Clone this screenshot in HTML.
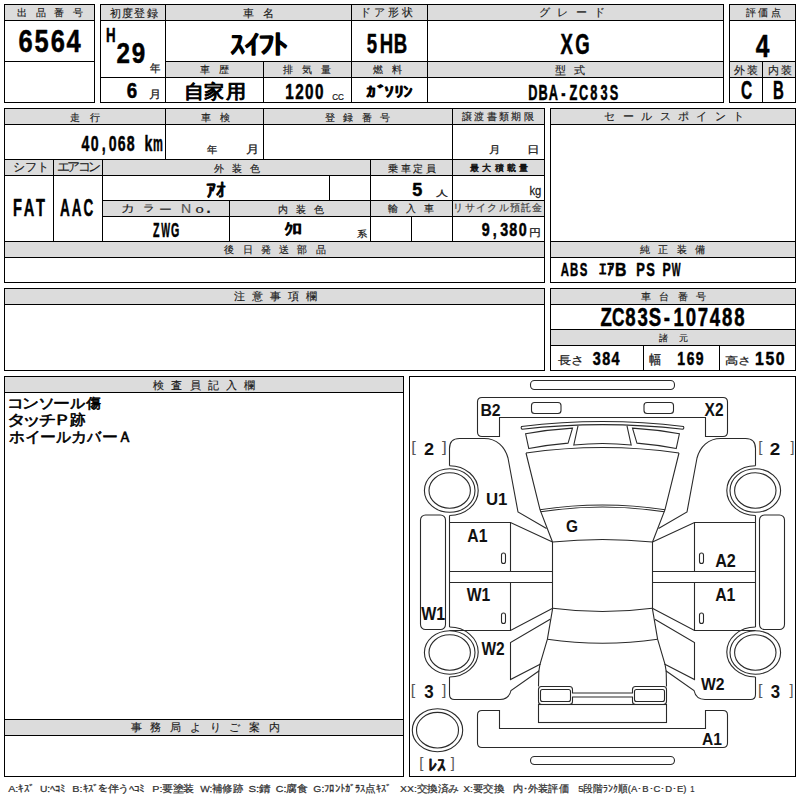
<!DOCTYPE html>
<html lang="ja"><head><meta charset="utf-8"><title>auction sheet</title>
<style>
html,body{margin:0;padding:0;background:#fff;}
body{width:800px;height:800px;overflow:hidden;position:relative;font-family:"Liberation Sans", sans-serif;}
svg{position:absolute;left:0;top:0;}
svg text{font-family:"Liberation Sans", sans-serif;white-space:pre;}
</style></head><body>
<svg width="800" height="800" viewBox="0 0 800 800">
<g fill="#000" shape-rendering="crispEdges">
<rect x="5" y="5" width="89" height="15" fill="#dcdcdc"/>
<rect x="101" y="5" width="622" height="15" fill="#dcdcdc"/>
<rect x="166" y="62" width="557" height="15" fill="#dcdcdc"/>
<rect x="730" y="5" width="65" height="15" fill="#dcdcdc"/>
<rect x="730" y="62" width="65" height="15" fill="#dcdcdc"/>
<rect x="5" y="109" width="539" height="15" fill="#dcdcdc"/>
<rect x="5" y="160" width="539" height="15" fill="#dcdcdc"/>
<rect x="103" y="201" width="441" height="15" fill="#dcdcdc"/>
<rect x="5" y="242" width="539" height="15" fill="#dcdcdc"/>
<rect x="551" y="109" width="244" height="15" fill="#dcdcdc"/>
<rect x="551" y="242" width="244" height="15" fill="#dcdcdc"/>
<rect x="5" y="289" width="539" height="15" fill="#dcdcdc"/>
<rect x="551" y="289" width="244" height="15" fill="#dcdcdc"/>
<rect x="551" y="330" width="244" height="15" fill="#dcdcdc"/>
<rect x="5" y="377" width="398" height="15" fill="#dcdcdc"/>
<rect x="5" y="720" width="398" height="15" fill="#dcdcdc"/>
<rect x="4" y="4" width="91" height="1"/>
<rect x="4" y="102" width="91" height="1"/>
<rect x="4" y="20" width="91" height="1"/>
<rect x="4" y="61" width="91" height="1"/>
<rect x="100" y="4" width="624" height="1"/>
<rect x="100" y="102" width="624" height="1"/>
<rect x="100" y="20" width="624" height="1"/>
<rect x="165" y="61" width="559" height="1"/>
<rect x="100" y="77" width="624" height="1"/>
<rect x="729" y="4" width="67" height="1"/>
<rect x="729" y="102" width="67" height="1"/>
<rect x="729" y="20" width="67" height="1"/>
<rect x="729" y="61" width="67" height="1"/>
<rect x="729" y="77" width="67" height="1"/>
<rect x="4" y="108" width="541" height="1"/>
<rect x="4" y="282" width="541" height="1"/>
<rect x="4" y="124" width="541" height="1"/>
<rect x="4" y="159" width="541" height="1"/>
<rect x="4" y="175" width="541" height="1"/>
<rect x="102" y="200" width="443" height="1"/>
<rect x="102" y="216" width="443" height="1"/>
<rect x="4" y="241" width="541" height="1"/>
<rect x="4" y="257" width="541" height="1"/>
<rect x="550" y="108" width="246" height="1"/>
<rect x="550" y="282" width="246" height="1"/>
<rect x="550" y="124" width="246" height="1"/>
<rect x="550" y="241" width="246" height="1"/>
<rect x="550" y="257" width="246" height="1"/>
<rect x="4" y="288" width="541" height="1"/>
<rect x="4" y="370" width="541" height="1"/>
<rect x="4" y="304" width="541" height="1"/>
<rect x="550" y="288" width="246" height="1"/>
<rect x="550" y="370" width="246" height="1"/>
<rect x="550" y="304" width="246" height="1"/>
<rect x="550" y="329" width="246" height="1"/>
<rect x="550" y="345" width="246" height="1"/>
<rect x="4" y="376" width="400" height="1"/>
<rect x="4" y="776" width="400" height="1"/>
<rect x="4" y="392" width="400" height="1"/>
<rect x="4" y="719" width="400" height="1"/>
<rect x="4" y="735" width="400" height="1"/>
<rect x="409" y="376" width="387" height="1"/>
<rect x="409" y="776" width="387" height="1"/>
<rect x="4" y="4" width="1" height="99"/>
<rect x="94" y="4" width="1" height="99"/>
<rect x="100" y="4" width="1" height="99"/>
<rect x="723" y="4" width="1" height="99"/>
<rect x="165" y="4" width="1" height="99"/>
<rect x="351" y="4" width="1" height="99"/>
<rect x="427" y="4" width="1" height="99"/>
<rect x="263" y="61" width="1" height="42"/>
<rect x="729" y="4" width="1" height="99"/>
<rect x="795" y="4" width="1" height="99"/>
<rect x="762" y="61" width="1" height="42"/>
<rect x="4" y="108" width="1" height="175"/>
<rect x="544" y="108" width="1" height="175"/>
<rect x="165" y="108" width="1" height="52"/>
<rect x="263" y="108" width="1" height="52"/>
<rect x="452" y="108" width="1" height="134"/>
<rect x="53" y="159" width="1" height="83"/>
<rect x="102" y="159" width="1" height="83"/>
<rect x="370" y="159" width="1" height="83"/>
<rect x="329" y="175" width="1" height="26"/>
<rect x="229" y="200" width="1" height="42"/>
<rect x="411" y="216" width="1" height="26"/>
<rect x="550" y="108" width="1" height="175"/>
<rect x="795" y="108" width="1" height="175"/>
<rect x="4" y="288" width="1" height="83"/>
<rect x="544" y="288" width="1" height="83"/>
<rect x="550" y="288" width="1" height="83"/>
<rect x="795" y="288" width="1" height="83"/>
<rect x="643" y="345" width="1" height="26"/>
<rect x="719" y="345" width="1" height="26"/>
<rect x="4" y="376" width="1" height="401"/>
<rect x="403" y="376" width="1" height="401"/>
<rect x="409" y="376" width="1" height="401"/>
<rect x="795" y="376" width="1" height="401"/>
</g>
<g fill="none" stroke="#2a2a2a" stroke-width="1.1">

<rect x="530.5" y="380.5" width="144" height="9" rx="4"/>
<path d="M499.5,417.5 L499.5,436.5 L482,436.5 Q477.5,436.5 477.5,432 L477.5,402 Q477.5,397.5 482,397.5 L723,397.5 Q727.5,397.5 727.5,402 L727.5,432 Q727.5,436.5 723,436.5 L705.5,436.5 L705.5,417.5 Z"/>
<path d="M521.5,426.5 Q602.5,416.5 683.5,426.5 Q684.5,428 683,429.2 Q602.5,420 522,429.2 Q520.5,428 521.5,426.5 Z"/>
<path d="M578,425.8 L573.8,445 Q602.5,442 631.2,445 L627,425.8"/>
<path d="M526,453 Q602.5,442 679,453"/>
<path d="M540,509.7 Q602.5,500.3 665,509.7"/>
<path d="M540.7,511.8 Q602.5,502.3 664.3,511.8"/>
<path d="M552.5,542 Q602.5,537 652.5,542"/>
<path d="M552.7,608.2 Q602.5,614.8 652.3,608.2"/>
<path d="M547.4,639.2 Q602.5,647.2 657.6,639.2"/>
<path d="M541.5,686.5 L569.5,686.5 Q572.5,686.5 572.5,689.5 L572.5,693 L632.5,693 L632.5,689.5 Q632.5,686.5 635.5,686.5 L663.5,686.5 Q666.5,686.5 666.5,689.5 L666.5,701.5 Q666.5,704.5 663.5,704.5 L635.5,704.5 Q632.5,704.5 632.5,701.5 L632.5,697 L572.5,697 L572.5,701.5 Q572.5,704.5 569.5,704.5 L541.5,704.5 Q538.5,704.5 538.5,701.5 L538.5,689.5 Q538.5,686.5 541.5,686.5 Z"/>
<rect x="540.5" y="689.5" width="30" height="12" rx="2"/>
<rect x="634.5" y="689.5" width="30" height="12" rx="2"/>
<rect x="538.5" y="704.5" width="128" height="18"/>
<path d="M499.5,710.5 L482,710.5 Q477.5,710.5 477.5,715 L477.5,743 Q477.5,747.5 482,747.5 L723,747.5 Q727.5,747.5 727.5,743 L727.5,715 Q727.5,710.5 723,710.5 L705.5,710.5 L705.5,728.5 L499.5,728.5 Z"/>
<rect x="530.5" y="756.5" width="144" height="8" rx="4"/>


<rect x="531.5" y="402.5" width="29.5" height="11" rx="3"/>
<path d="M525.6,433.8 Q549,429.5 572.5,428.1 L568.1,443.1 Q548,444.8 528.8,448.5 Z"/>
<path d="M526,453 L540,509.7 L552.5,542"/>
<path d="M449.5,465.7 L449.5,448.5 Q449.5,438.5 459.5,438.5 L484,438.5 C497,438.5 505,447 508,458 L518,512 L546.5,528.6"/>
<path d="M449.5,465.7 A28.7,24.9 0 0 1 449.5,515.5"/>
<path d="M449.5,515.5 L449.5,627"/>
<path d="M449.5,627 A28.7,25 0 0 1 449.5,677"/>
<path d="M449.5,677 L449.5,694.5 Q449.5,699.5 454.5,699.5 L500,699.5 Q509,699.5 511,690.5 L539.2,670.8"/>
<ellipse cx="449.7" cy="490.5" rx="25.3" ry="21.8"/>
<ellipse cx="449.7" cy="490.5" rx="20.7" ry="17.7"/>
<ellipse cx="449.7" cy="652.5" rx="25.3" ry="21.8"/>
<ellipse cx="449.7" cy="652.5" rx="20.7" ry="17.7"/>
<rect x="420.5" y="515" width="25" height="114.5" rx="5"/>
<path d="M449.5,522.5 L510.5,522.5 L552.5,542"/>
<path d="M510.5,522.5 L510.5,571.5 M510.5,582.5 L510.5,630.5"/>
<path d="M449.5,571.5 L552.5,571.5 M449.5,582.5 L552.5,582.5"/>
<path d="M449.5,630.5 L510.5,630.5 L552.7,608.2"/>
<path d="M552.5,542 L552.5,608.2"/>
<path d="M550.2,619.2 L510.5,642.6 L510.5,679.5 L540.6,664"/>
<path d="M552.7,608.2 L547.4,639.2 L539.9,664.6 L538.8,671.5 L538.5,686.5"/>
<rect x="501.5" y="553" width="4" height="10.5" rx="2"/>
<rect x="501.5" y="613" width="4" height="10.5" rx="2"/>

<g transform="matrix(-1 0 0 1 1205 0)">

<rect x="531.5" y="402.5" width="29.5" height="11" rx="3"/>
<path d="M525.6,433.8 Q549,429.5 572.5,428.1 L568.1,443.1 Q548,444.8 528.8,448.5 Z"/>
<path d="M526,453 L540,509.7 L552.5,542"/>
<path d="M449.5,465.7 L449.5,448.5 Q449.5,438.5 459.5,438.5 L484,438.5 C497,438.5 505,447 508,458 L518,512 L546.5,528.6"/>
<path d="M449.5,465.7 A28.7,24.9 0 0 1 449.5,515.5"/>
<path d="M449.5,515.5 L449.5,627"/>
<path d="M449.5,627 A28.7,25 0 0 1 449.5,677"/>
<path d="M449.5,677 L449.5,694.5 Q449.5,699.5 454.5,699.5 L500,699.5 Q509,699.5 511,690.5 L539.2,670.8"/>
<ellipse cx="449.7" cy="490.5" rx="25.3" ry="21.8"/>
<ellipse cx="449.7" cy="490.5" rx="20.7" ry="17.7"/>
<ellipse cx="449.7" cy="652.5" rx="25.3" ry="21.8"/>
<ellipse cx="449.7" cy="652.5" rx="20.7" ry="17.7"/>
<rect x="420.5" y="515" width="25" height="114.5" rx="5"/>
<path d="M449.5,522.5 L510.5,522.5 L552.5,542"/>
<path d="M510.5,522.5 L510.5,571.5 M510.5,582.5 L510.5,630.5"/>
<path d="M449.5,571.5 L552.5,571.5 M449.5,582.5 L552.5,582.5"/>
<path d="M449.5,630.5 L510.5,630.5 L552.7,608.2"/>
<path d="M552.5,542 L552.5,608.2"/>
<path d="M550.2,619.2 L510.5,642.6 L510.5,679.5 L540.6,664"/>
<path d="M552.7,608.2 L547.4,639.2 L539.9,664.6 L538.8,671.5 L538.5,686.5"/>
<rect x="501.5" y="553" width="4" height="10.5" rx="2"/>
<rect x="501.5" y="613" width="4" height="10.5" rx="2"/>

</g>

<ellipse cx="437.5" cy="730.2" rx="25.2" ry="21.5"/>
<ellipse cx="437.5" cy="730.2" rx="21" ry="17.8"/>

</g>
<g>
<text transform="matrix(1.0000 0 0 1 17.50 16.02)" x="-0.53 18.07 36.67 55.28" y="0" style="font-size:10.05px;font-weight:normal;fill:#1a1a1a;stroke:#1a1a1a;stroke-width:0.15px;stroke-linejoin:round">出品番号</text>
<text transform="matrix(1.0000 0 0 1 109.50 16.55)" x="0.07 12.41 24.74 37.08" y="0" style="font-size:10.56px;font-weight:normal;fill:#1a1a1a;stroke:#1a1a1a;stroke-width:0.15px;stroke-linejoin:round">初度登録</text>
<text transform="matrix(1.0000 0 0 1 243.00 16.52)" x="-0.03 20.37" y="0" style="font-size:10.78px;font-weight:normal;fill:#1a1a1a;stroke:#1a1a1a;stroke-width:0.15px;stroke-linejoin:round">車名</text>
<text transform="matrix(1.0000 0 0 1 364.00 16.24)" x="-3.62 10.31 24.25 38.18" y="0" style="font-size:10.56px;font-weight:normal;fill:#1a1a1a;stroke:#1a1a1a;stroke-width:0.15px;stroke-linejoin:round">ドア形状</text>
<text transform="matrix(1.0000 0 0 1 539.60 15.54)" x="-0.95 17.55 36.05 54.54" y="0" style="font-size:11.34px;font-weight:normal;fill:#1a1a1a;stroke:#1a1a1a;stroke-width:0.15px;stroke-linejoin:round">グレード</text>
<text transform="matrix(1.0000 0 0 1 746.00 16.25)" x="-0.02 12.27 24.57" y="0" style="font-size:9.85px;font-weight:normal;fill:#1a1a1a;stroke:#1a1a1a;stroke-width:0.15px;stroke-linejoin:round">評価点</text>
<text transform="matrix(1.0000 0 0 1 200.40 73.18)" x="-0.03 18.37" y="0" style="font-size:10.36px;font-weight:normal;fill:#1a1a1a;stroke:#1a1a1a;stroke-width:0.15px;stroke-linejoin:round">車歴</text>
<text transform="matrix(1.0000 0 0 1 282.50 72.99)" x="0.07 19.28 38.48" y="0" style="font-size:10.26px;font-weight:normal;fill:#1a1a1a;stroke:#1a1a1a;stroke-width:0.15px;stroke-linejoin:round">排気量</text>
<text transform="matrix(1.0000 0 0 1 372.50 73.09)" x="0.07 19.98" y="0" style="font-size:10.26px;font-weight:normal;fill:#1a1a1a;stroke:#1a1a1a;stroke-width:0.15px;stroke-linejoin:round">燃料</text>
<text transform="matrix(1.0000 0 0 1 555.00 73.96)" x="-0.04 18.96" y="0" style="font-size:11.30px;font-weight:normal;fill:#1a1a1a;stroke:#1a1a1a;stroke-width:0.15px;stroke-linejoin:round">型式</text>
<text transform="matrix(1.0000 0 0 1 734.30 74.02)" x="0.07 12.68" y="0" style="font-size:10.78px;font-weight:normal;fill:#1a1a1a;stroke:#1a1a1a;stroke-width:0.15px;stroke-linejoin:round">外装</text>
<text transform="matrix(1.0000 0 0 1 769.00 74.02)" x="-0.79 12.18" y="0" style="font-size:10.78px;font-weight:normal;fill:#1a1a1a;stroke:#1a1a1a;stroke-width:0.15px;stroke-linejoin:round">内装</text>
<text transform="matrix(1.0000 0 0 1 70.00 120.58)" x="-0.21 19.58" y="0" style="font-size:9.64px;font-weight:normal;fill:#1a1a1a;stroke:#1a1a1a;stroke-width:0.15px;stroke-linejoin:round">走行</text>
<text transform="matrix(1.0000 0 0 1 201.00 120.66)" x="-0.02 19.48" y="0" style="font-size:9.74px;font-weight:normal;fill:#1a1a1a;stroke:#1a1a1a;stroke-width:0.15px;stroke-linejoin:round">車検</text>
<text transform="matrix(1.0000 0 0 1 325.00 120.59)" x="-0.02 18.24 36.50 54.77" y="0" style="font-size:9.54px;font-weight:normal;fill:#1a1a1a;stroke:#1a1a1a;stroke-width:0.15px;stroke-linejoin:round">登録番号</text>
<text transform="matrix(1.0000 0 0 1 462.00 120.20)" x="-0.03 12.30 24.62 36.94 49.26 61.58" y="0" style="font-size:10.15px;font-weight:normal;fill:#1a1a1a;stroke:#1a1a1a;stroke-width:0.15px;stroke-linejoin:round">譲渡書類期限</text>
<text transform="matrix(1.0000 0 0 1 14.00 170.92)" x="-1.08 10.96 23.00" y="0" style="font-size:11.59px;font-weight:normal;fill:#1a1a1a;stroke:#1a1a1a;stroke-width:0.15px;stroke-linejoin:round">シフト</text>
<text transform="matrix(1.0000 0 0 1 57.50 171.29)" x="-0.81 9.73 20.27 30.81" y="0" style="font-size:12.63px;font-weight:normal;fill:#1a1a1a;stroke:#1a1a1a;stroke-width:0.15px;stroke-linejoin:round">エアコン</text>
<text transform="matrix(1.0000 0 0 1 214.00 172.16)" x="0.07 18.18 36.28" y="0" style="font-size:9.74px;font-weight:normal;fill:#1a1a1a;stroke:#1a1a1a;stroke-width:0.15px;stroke-linejoin:round">外装色</text>
<text transform="matrix(1.0000 0 0 1 388.60 171.79)" x="-0.23 12.27 24.78 37.28" y="0" style="font-size:10.25px;font-weight:normal;fill:#1a1a1a;stroke:#1a1a1a;stroke-width:0.15px;stroke-linejoin:round">乗車定員</text>
<text transform="matrix(1.0000 0 0 1 470.00 170.98)" x="0.13 12.35 24.58 36.80 49.02" y="0" style="font-size:9.23px;font-weight:normal;fill:#111;stroke:#111;stroke-width:0.45px;stroke-linejoin:round">最大積載量</text>
<text transform="matrix(1.2518 0 0 1 120.91 212.24)" style="font-size:10.80px;font-weight:normal;fill:#1a1a1a;stroke:#1a1a1a;stroke-width:0.15px;stroke-linejoin:round">カ</text>
<text transform="matrix(1.3104 0 0 1 142.84 211.36)" style="font-size:8.86px;font-weight:normal;fill:#1a1a1a;stroke:#1a1a1a;stroke-width:0.15px;stroke-linejoin:round">ラ</text>
<text transform="matrix(1.2809 0 0 1 159.13 212.86)" style="font-size:10.42px;font-weight:normal;fill:#1a1a1a;stroke:#1a1a1a;stroke-width:0.15px;stroke-linejoin:round">ー</text>
<text transform="matrix(1.1773 0 0 1 180.96 213.33)" style="font-size:11.96px;font-weight:normal;fill:#555;stroke:#555;stroke-width:0.15px;stroke-linejoin:round">N</text>
<text transform="matrix(1.3663 0 0 1 195.41 213.22)" style="font-size:10.82px;font-weight:normal;fill:#1a1a1a;stroke:#1a1a1a;stroke-width:0.15px;stroke-linejoin:round">o</text>
<text transform="matrix(1.1387 0 0 1 205.19 213.33)" style="font-size:20.45px;font-weight:normal;fill:#1a1a1a;stroke:#1a1a1a;stroke-width:0.15px;stroke-linejoin:round">.</text>
<text transform="matrix(1.0000 0 0 1 278.30 212.59)" x="-0.75 17.66 36.07" y="0" style="font-size:10.26px;font-weight:normal;fill:#1a1a1a;stroke:#1a1a1a;stroke-width:0.15px;stroke-linejoin:round">内装色</text>
<text transform="matrix(1.0000 0 0 1 387.60 212.35)" x="-0.02 18.37 36.77" y="0" style="font-size:9.85px;font-weight:normal;fill:#1a1a1a;stroke:#1a1a1a;stroke-width:0.15px;stroke-linejoin:round">輸入車</text>
<text transform="matrix(1.0000 0 0 1 455.60 211.25)" x="-2.13 9.16 20.45 31.73 43.02 54.31 65.60 76.89" y="0" style="font-size:9.70px;font-weight:normal;fill:#444;stroke:#444;stroke-width:0.2px;stroke-linejoin:round">リサイクル預託金</text>
<text transform="matrix(1.0000 0 0 1 224.30 253.46)" x="0.07 18.32 36.57 54.81 73.06 91.30" y="0" style="font-size:10.45px;font-weight:normal;fill:#1a1a1a;stroke:#1a1a1a;stroke-width:0.15px;stroke-linejoin:round">後日発送部品</text>
<text transform="matrix(1.0000 0 0 1 604.90 120.32)" x="-0.50 17.90 36.30 54.70 73.10 91.50 109.90 128.30" y="0" style="font-size:11.47px;font-weight:normal;fill:#1a1a1a;stroke:#1a1a1a;stroke-width:0.15px;stroke-linejoin:round">セールスポイント</text>
<text transform="matrix(1.0000 0 0 1 639.70 252.99)" x="0.07 18.64 37.21 55.77" y="0" style="font-size:10.26px;font-weight:normal;fill:#1a1a1a;stroke:#1a1a1a;stroke-width:0.15px;stroke-linejoin:round">純正装備</text>
<text transform="matrix(1.0000 0 0 1 234.00 300.25)" x="-0.04 17.88 35.80 53.71 71.63" y="0" style="font-size:11.03px;font-weight:normal;fill:#1a1a1a;stroke:#1a1a1a;stroke-width:0.15px;stroke-linejoin:round">注意事項欄</text>
<text transform="matrix(1.0000 0 0 1 640.70 300.35)" x="-0.02 18.47 36.97 55.47" y="0" style="font-size:9.85px;font-weight:normal;fill:#1a1a1a;stroke:#1a1a1a;stroke-width:0.15px;stroke-linejoin:round">車台番号</text>
<text transform="matrix(1.0000 0 0 1 658.60 341.08)" x="-0.01 20.75" y="0" style="font-size:8.92px;font-weight:normal;fill:#1a1a1a;stroke:#1a1a1a;stroke-width:0.15px;stroke-linejoin:round">諸元</text>
<text transform="matrix(1.0000 0 0 1 153.00 388.52)" x="0.07 18.34 36.61 54.88 73.15 91.41" y="0" style="font-size:11.25px;font-weight:normal;fill:#1a1a1a;stroke:#1a1a1a;stroke-width:0.15px;stroke-linejoin:round">検査員記入欄</text>
<text transform="matrix(1.0000 0 0 1 130.60 731.13)" x="-0.03 19.74 39.51 59.27 79.04 98.81 118.58 138.34" y="0" style="font-size:10.53px;font-weight:normal;fill:#1a1a1a;stroke:#1a1a1a;stroke-width:0.15px;stroke-linejoin:round">事務局よりご案内</text>
<g style="font-size:31.69px;font-weight:bold;fill:#000;stroke:#000;stroke-width:0.5px;stroke-linejoin:round"><text transform="matrix(0.8043 0 0 1 18.44 52.43)">6</text><text transform="matrix(0.8043 0 0 1 34.42 52.43)">5</text><text transform="matrix(0.8043 0 0 1 50.67 52.43)">6</text><text transform="matrix(0.8043 0 0 1 66.53 52.43)">4</text></g>
<g style="font-size:19.57px;font-weight:bold;fill:#000;stroke:#000;stroke-width:0.5px;stroke-linejoin:round"><text transform="matrix(0.6779 0 0 1 105.97 42.25)">H</text></g>
<g style="font-size:29.30px;font-weight:bold;fill:#000;stroke:#000;stroke-width:0.5px;stroke-linejoin:round"><text transform="matrix(0.8258 0 0 1 116.48 63.06)">2</text><text transform="matrix(0.8258 0 0 1 131.81 63.06)">9</text></g>
<text transform="matrix(0.9522 0 0 1 150.12 72.13)" style="font-size:11.12px;font-weight:normal;fill:#1a1a1a;stroke:#1a1a1a;stroke-width:0.25px;stroke-linejoin:round">年</text>
<g style="font-size:21.69px;font-weight:bold;fill:#000;stroke:#000;stroke-width:0.5px;stroke-linejoin:round"><text transform="matrix(0.8627 0 0 1 126.75 98.13)">6</text></g>
<text transform="matrix(1.1119 0 0 1 148.76 97.68)" style="font-size:10.72px;font-weight:normal;fill:#1a1a1a;stroke:#1a1a1a;stroke-width:0.25px;stroke-linejoin:round">月</text>
<g style="font-size:26.75px;font-weight:normal;fill:#000;stroke:#000;stroke-width:1.3px;stroke-linejoin:round"><text transform="matrix(1.1373 0 0 1 229.52 54.28)">ｽ</text><text transform="matrix(1.2151 0 0 1 244.19 54.28)">ｲ</text><text transform="matrix(1.2774 0 0 1 257.98 54.28)">ﾌ</text><text transform="matrix(1.2774 0 0 1 270.79 54.28)">ﾄ</text></g>
<g style="font-size:27.61px;font-weight:bold;fill:#000;stroke:#000;stroke-width:0.5px;stroke-linejoin:round"><text transform="matrix(0.6722 0 0 1 366.81 53.37)">5</text><text transform="matrix(0.6722 0 0 1 379.66 53.37)">H</text><text transform="matrix(0.6722 0 0 1 393.81 53.37)">B</text></g>
<g style="font-size:30.14px;font-weight:bold;fill:#000;stroke:#000;stroke-width:0.5px;stroke-linejoin:round"><text transform="matrix(0.6160 0 0 1 560.45 54.15)">X</text><text transform="matrix(0.6160 0 0 1 575.23 54.15)">G</text></g>
<g style="font-size:32.17px;font-weight:bold;fill:#000;stroke:#000;stroke-width:0.5px;stroke-linejoin:round"><text transform="matrix(0.7639 0 0 1 755.75 56.55)">4</text></g>
<g style="font-size:19.10px;font-weight:normal;fill:#000;stroke:#000;stroke-width:1.0px;stroke-linejoin:round"><text transform="matrix(1.0591 0 0 1 183.70 98.14)">自</text><text transform="matrix(1.0591 0 0 1 204.33 98.14)">家</text><text transform="matrix(1.0591 0 0 1 225.77 98.14)">用</text></g>
<g style="font-size:21.55px;font-weight:bold;fill:#000;stroke:#000;stroke-width:0.5px;stroke-linejoin:round"><text transform="matrix(0.7092 0 0 1 285.16 98.93)">1</text><text transform="matrix(0.7092 0 0 1 295.27 98.93)">2</text><text transform="matrix(0.7092 0 0 1 305.07 98.93)">0</text><text transform="matrix(0.7092 0 0 1 314.88 98.93)">0</text></g>
<text transform="matrix(0.8872 0 0 1 332.21 99.78)" style="font-size:9.08px;font-weight:normal;fill:#1a1a1a;stroke:#1a1a1a;stroke-width:0.25px;stroke-linejoin:round">CC</text>
<g style="font-size:14.89px;font-weight:normal;fill:#000;stroke:#000;stroke-width:0.9px;stroke-linejoin:round"><text transform="matrix(1.3240 0 0 1 365.81 96.81)">ｶ</text><text transform="matrix(1.3556 0 0 1 376.77 96.81)">ﾞ</text><text transform="matrix(1.3556 0 0 1 384.21 96.81)">ｿ</text><text transform="matrix(1.3556 0 0 1 393.56 96.81)">ﾘ</text><text transform="matrix(1.2689 0 0 1 403.05 96.81)">ﾝ</text></g>
<g style="font-size:21.55px;font-weight:bold;fill:#000;stroke:#000;stroke-width:0.5px;stroke-linejoin:round"><text transform="matrix(0.5928 0 0 1 528.28 99.53)">D</text><text transform="matrix(0.5928 0 0 1 538.46 99.53)">B</text><text transform="matrix(0.5928 0 0 1 548.69 99.53)">A</text><text transform="matrix(0.5928 0 0 1 561.30 99.53)">-</text><text transform="matrix(0.5928 0 0 1 569.62 99.53)">Z</text><text transform="matrix(0.5928 0 0 1 578.90 99.53)">C</text><text transform="matrix(0.5928 0 0 1 590.16 99.53)">8</text><text transform="matrix(0.5928 0 0 1 600.40 99.53)">3</text><text transform="matrix(0.5928 0 0 1 609.80 99.53)">S</text></g>
<g style="font-size:25.07px;font-weight:bold;fill:#000;stroke:#000;stroke-width:0.5px;stroke-linejoin:round"><text transform="matrix(0.6160 0 0 1 741.04 99.10)">C</text></g>
<g style="font-size:25.80px;font-weight:bold;fill:#000;stroke:#000;stroke-width:0.5px;stroke-linejoin:round"><text transform="matrix(0.5820 0 0 1 773.04 99.35)">B</text></g>
<g style="font-size:22.82px;font-weight:bold;fill:#000;stroke:#000;stroke-width:0.5px;stroke-linejoin:round"><text transform="matrix(0.6196 0 0 1 81.51 150.72)">4</text><text transform="matrix(0.6196 0 0 1 90.70 150.72)">0</text><text transform="matrix(0.6196 0 0 1 101.66 150.72)">,</text><text transform="matrix(0.6196 0 0 1 108.79 150.72)">0</text><text transform="matrix(0.6196 0 0 1 117.84 150.72)">6</text><text transform="matrix(0.6196 0 0 1 126.82 150.72)">8</text><text transform="matrix(0.6196 0 0 1 139.82 150.72)"> </text><text transform="matrix(0.6196 0 0 1 144.48 150.72)">k</text><text transform="matrix(0.4856 0 0 1 152.98 150.72)">m</text></g>
<text transform="matrix(1.0287 0 0 1 207.13 153.03)" style="font-size:10.37px;font-weight:normal;fill:#1a1a1a;stroke:#1a1a1a;stroke-width:0.25px;stroke-linejoin:round">年</text>
<text transform="matrix(1.2097 0 0 1 245.63 152.97)" style="font-size:10.83px;font-weight:normal;fill:#1a1a1a;stroke:#1a1a1a;stroke-width:0.25px;stroke-linejoin:round">月</text>
<text transform="matrix(1.1457 0 0 1 488.67 153.04)" style="font-size:10.28px;font-weight:normal;fill:#1a1a1a;stroke:#1a1a1a;stroke-width:0.25px;stroke-linejoin:round">月</text>
<text transform="matrix(1.2571 0 0 1 526.72 153.04)" style="font-size:10.28px;font-weight:normal;fill:#1a1a1a;stroke:#1a1a1a;stroke-width:0.25px;stroke-linejoin:round">日</text>
<g style="font-size:23.10px;font-weight:bold;fill:#000;stroke:#000;stroke-width:0.5px;stroke-linejoin:round"><text transform="matrix(0.6334 0 0 1 13.03 216.42)">F</text><text transform="matrix(0.6334 0 0 1 23.81 216.42)">A</text><text transform="matrix(0.6334 0 0 1 35.92 216.42)">T</text></g>
<g style="font-size:23.10px;font-weight:bold;fill:#000;stroke:#000;stroke-width:0.5px;stroke-linejoin:round"><text transform="matrix(0.5859 0 0 1 59.88 216.42)">A</text><text transform="matrix(0.5859 0 0 1 71.75 216.42)">A</text><text transform="matrix(0.5859 0 0 1 83.48 216.42)">C</text></g>
<g style="font-size:18.78px;font-weight:normal;fill:#000;stroke:#000;stroke-width:0.9px;stroke-linejoin:round"><text transform="matrix(1.0610 0 0 1 205.73 196.70)">ｱ</text><text transform="matrix(1.0380 0 0 1 215.57 196.70)">ｵ</text></g>
<g style="font-size:19.00px;font-weight:bold;fill:#000;stroke:#000;stroke-width:0.5px;stroke-linejoin:round"><text transform="matrix(0.9500 0 0 1 412.20 196.46)">5</text></g>
<text transform="matrix(1.5000 0 0 1 436.37 196.05)" style="font-size:7.66px;font-weight:normal;fill:#1a1a1a;stroke:#1a1a1a;stroke-width:0.25px;stroke-linejoin:round">人</text>
<text transform="matrix(0.8881 0 0 1 529.44 194.57)" style="font-size:12.67px;font-weight:normal;fill:#1a1a1a;stroke:#1a1a1a;stroke-width:0.25px;stroke-linejoin:round">kg</text>
<g style="font-size:19.58px;font-weight:bold;fill:#000;stroke:#000;stroke-width:0.5px;stroke-linejoin:round"><text transform="matrix(0.5427 0 0 1 153.02 237.45)">Z</text><text transform="matrix(0.4759 0 0 1 161.21 237.45)">W</text><text transform="matrix(0.5427 0 0 1 170.97 237.45)">G</text></g>
<g style="font-size:15.95px;font-weight:normal;fill:#000;stroke:#000;stroke-width:0.9px;stroke-linejoin:round"><text transform="matrix(1.1583 0 0 1 283.90 235.19)">ｸ</text><text transform="matrix(1.2775 0 0 1 291.77 235.19)">ﾛ</text></g>
<text transform="matrix(1.1376 0 0 1 356.63 236.75)" style="font-size:9.44px;font-weight:normal;fill:#1a1a1a;stroke:#1a1a1a;stroke-width:0.25px;stroke-linejoin:round">系</text>
<g style="font-size:17.82px;font-weight:bold;fill:#000;stroke:#000;stroke-width:0.5px;stroke-linejoin:round"><text transform="matrix(0.8008 0 0 1 481.67 235.82)">9</text><text transform="matrix(0.8008 0 0 1 492.84 235.82)">,</text><text transform="matrix(0.8008 0 0 1 500.22 235.82)">3</text><text transform="matrix(0.8008 0 0 1 509.32 235.82)">8</text><text transform="matrix(0.8008 0 0 1 518.63 235.82)">0</text></g>
<text transform="matrix(1.1928 0 0 1 529.06 236.05)" style="font-size:10.17px;font-weight:normal;fill:#1a1a1a;stroke:#1a1a1a;stroke-width:0.25px;stroke-linejoin:round">円</text>
<g style="font-size:18.31px;font-weight:bold;fill:#000;stroke:#000;stroke-width:0.5px;stroke-linejoin:round"><text transform="matrix(0.6223 0 0 1 560.83 275.77)">A</text><text transform="matrix(0.6223 0 0 1 569.93 275.77)">B</text><text transform="matrix(0.6223 0 0 1 579.67 275.77)">S</text></g>
<g style="font-size:17.26px;font-weight:normal;fill:#000;stroke:#000;stroke-width:0.9px;stroke-linejoin:round"><text transform="matrix(0.8720 0 0 1 599.49 275.06)">ｴ</text><text transform="matrix(0.8725 0 0 1 606.68 275.06)">ｱ</text></g>
<g style="font-size:18.84px;font-weight:bold;fill:#000;stroke:#000;stroke-width:0.5px;stroke-linejoin:round"><text transform="matrix(0.8374 0 0 1 614.96 275.95)">B</text></g>
<g style="font-size:18.31px;font-weight:bold;fill:#000;stroke:#000;stroke-width:0.5px;stroke-linejoin:round"><text transform="matrix(0.7038 0 0 1 636.20 275.77)">P</text><text transform="matrix(0.7038 0 0 1 646.31 275.77)">S</text></g>
<g style="font-size:18.57px;font-weight:bold;fill:#000;stroke:#000;stroke-width:0.5px;stroke-linejoin:round"><text transform="matrix(0.6668 0 0 1 662.42 275.76)">P</text><text transform="matrix(0.5023 0 0 1 671.71 275.76)">W</text></g>
<g style="font-size:25.21px;font-weight:bold;fill:#000;stroke:#000;stroke-width:0.5px;stroke-linejoin:round"><text transform="matrix(0.7385 0 0 1 600.61 325.80)">Z</text><text transform="matrix(0.6846 0 0 1 612.00 325.80)">C</text><text transform="matrix(0.7385 0 0 1 625.27 325.80)">8</text><text transform="matrix(0.7385 0 0 1 637.56 325.80)">3</text><text transform="matrix(0.7385 0 0 1 648.63 325.80)">S</text><text transform="matrix(0.7385 0 0 1 663.71 325.80)">-</text><text transform="matrix(0.7385 0 0 1 673.38 325.80)">1</text><text transform="matrix(0.7385 0 0 1 685.85 325.80)">0</text><text transform="matrix(0.7385 0 0 1 697.86 325.80)">7</text><text transform="matrix(0.7385 0 0 1 709.86 325.80)">4</text><text transform="matrix(0.7385 0 0 1 722.05 325.80)">8</text><text transform="matrix(0.7385 0 0 1 734.15 325.80)">8</text></g>
<text transform="matrix(1.1922 0 0 1 557.72 364.19)" style="font-size:10.59px;font-weight:normal;fill:#1a1a1a;stroke:#1a1a1a;stroke-width:0.25px;stroke-linejoin:round">長さ</text>
<g style="font-size:19.15px;font-weight:bold;fill:#000;stroke:#000;stroke-width:0.5px;stroke-linejoin:round"><text transform="matrix(0.7524 0 0 1 592.80 365.36)">3</text><text transform="matrix(0.7524 0 0 1 602.13 365.36)">8</text><text transform="matrix(0.7524 0 0 1 611.54 365.36)">4</text></g>
<text transform="matrix(0.9411 0 0 1 649.25 364.07)" style="font-size:12.89px;font-weight:normal;fill:#1a1a1a;stroke:#1a1a1a;stroke-width:0.25px;stroke-linejoin:round">幅</text>
<g style="font-size:19.15px;font-weight:bold;fill:#000;stroke:#000;stroke-width:0.5px;stroke-linejoin:round"><text transform="matrix(0.7295 0 0 1 677.34 365.36)">1</text><text transform="matrix(0.7295 0 0 1 686.64 365.36)">6</text><text transform="matrix(0.7295 0 0 1 695.65 365.36)">9</text></g>
<text transform="matrix(1.3249 0 0 1 724.84 364.30)" style="font-size:9.85px;font-weight:normal;fill:#1a1a1a;stroke:#1a1a1a;stroke-width:0.25px;stroke-linejoin:round">高さ</text>
<g style="font-size:19.15px;font-weight:bold;fill:#000;stroke:#000;stroke-width:0.5px;stroke-linejoin:round"><text transform="matrix(0.8283 0 0 1 755.06 365.36)">1</text><text transform="matrix(0.8283 0 0 1 765.53 365.36)">5</text><text transform="matrix(0.8283 0 0 1 775.84 365.36)">0</text></g>
<g style="font-size:13.89px;font-weight:normal;fill:#000;stroke:#000;stroke-width:0.6px;stroke-linejoin:round"><text transform="matrix(1.2034 0 0 1 6.75 408.05)">コ</text><text transform="matrix(1.2034 0 0 1 21.75 408.05)">ン</text><text transform="matrix(1.2034 0 0 1 37.83 408.05)">ソ</text><text transform="matrix(1.2034 0 0 1 53.41 408.05)">ー</text><text transform="matrix(1.0688 0 0 1 69.86 408.05)">ル</text><text transform="matrix(1.0688 0 0 1 85.97 408.05)">傷</text></g>
<g style="font-size:14.55px;font-weight:normal;fill:#000;stroke:#000;stroke-width:0.6px;stroke-linejoin:round"><text transform="matrix(1.2567 0 0 1 7.27 425.22)">タ</text><text transform="matrix(1.2567 0 0 1 22.18 425.22)">ッ</text><text transform="matrix(1.1315 0 0 1 38.80 425.22)">チ</text><text transform="matrix(1.2567 0 0 1 53.10 425.22)">Ｐ</text><text transform="matrix(1.0298 0 0 1 70.21 425.22)">跡</text></g>
<g style="font-size:15.00px;font-weight:normal;fill:#000;stroke:#000;stroke-width:0.6px;stroke-linejoin:round"><text transform="matrix(1.0469 0 0 1 8.74 442.00)">ホ</text><text transform="matrix(1.0597 0 0 1 24.67 442.00)">イ</text><text transform="matrix(1.0597 0 0 1 39.57 442.00)">ー</text><text transform="matrix(0.9853 0 0 1 55.53 442.00)">ル</text><text transform="matrix(1.0597 0 0 1 71.21 442.00)">カ</text><text transform="matrix(0.9306 0 0 1 87.03 442.00)">バ</text><text transform="matrix(1.0597 0 0 1 101.74 442.00)">ー</text><text transform="matrix(1.0597 0 0 1 117.28 442.00)">Ａ</text></g>
<text transform="matrix(1.1080 0 0 1 8.14 791.88)" style="font-size:9.78px;font-weight:normal;fill:#333;stroke:#333;stroke-width:0.25px;stroke-linejoin:round">A:ｷｽﾞ</text>
<text transform="matrix(1.0498 0 0 1 39.91 791.88)" style="font-size:9.78px;font-weight:normal;fill:#333;stroke:#333;stroke-width:0.25px;stroke-linejoin:round">U:ﾍｺﾐ</text>
<text transform="matrix(1.1101 0 0 1 72.27 791.88)" style="font-size:9.78px;font-weight:normal;fill:#333;stroke:#333;stroke-width:0.25px;stroke-linejoin:round">B:ｷｽﾞを伴うﾍｺﾐ</text>
<text transform="matrix(1.1018 0 0 1 152.28 791.88)" style="font-size:9.78px;font-weight:normal;fill:#333;stroke:#333;stroke-width:0.25px;stroke-linejoin:round">P:要塗装</text>
<text transform="matrix(1.0321 0 0 1 200.13 791.88)" style="font-size:9.78px;font-weight:normal;fill:#333;stroke:#333;stroke-width:0.25px;stroke-linejoin:round">W:補修跡</text>
<text transform="matrix(1.1699 0 0 1 248.44 791.88)" style="font-size:9.78px;font-weight:normal;fill:#333;stroke:#333;stroke-width:0.25px;stroke-linejoin:round">S:錆</text>
<text transform="matrix(1.0882 0 0 1 275.85 791.88)" style="font-size:9.78px;font-weight:normal;fill:#333;stroke:#333;stroke-width:0.25px;stroke-linejoin:round">C:腐食</text>
<text transform="matrix(1.0577 0 0 1 313.36 791.88)" style="font-size:9.78px;font-weight:normal;fill:#333;stroke:#333;stroke-width:0.25px;stroke-linejoin:round">G:ﾌﾛﾝﾄｶﾞﾗｽ点ｷｽﾞ</text>
<text transform="matrix(1.0768 0 0 1 399.92 791.88)" style="font-size:9.78px;font-weight:normal;fill:#333;stroke:#333;stroke-width:0.25px;stroke-linejoin:round">XX:交換済み</text>
<text transform="matrix(1.0587 0 0 1 463.18 791.88)" style="font-size:9.78px;font-weight:normal;fill:#333;stroke:#333;stroke-width:0.25px;stroke-linejoin:round">X:要交換</text>
<text transform="matrix(1.0221 0 0 1 513.08 791.88)" style="font-size:9.78px;font-weight:normal;fill:#333;stroke:#333;stroke-width:0.25px;stroke-linejoin:round">内･外装評価</text>
<text transform="matrix(0.9725 0 0 1 578.14 791.88)" style="font-size:9.78px;font-weight:normal;fill:#333;stroke:#333;stroke-width:0.25px;stroke-linejoin:round">5段階ﾗﾝｸ順(A･B･C･D･E)</text>
<text transform="matrix(0.7905 0 0 1 690.16 791.88)" style="font-size:9.78px;font-weight:normal;fill:#333;stroke:#333;stroke-width:0.25px;stroke-linejoin:round">1</text>
<text transform="matrix(0.9305 0 0 1 480.45 415.90)" style="font-size:17.00px;font-weight:bold;fill:#111">B2</text>
<text transform="matrix(0.8894 0 0 1 704.60 415.90)" style="font-size:17.43px;font-weight:bold;fill:#111">X2</text>
<text transform="matrix(1.0301 0 0 1 485.99 505.44)" style="font-size:16.29px;font-weight:bold;fill:#111">U1</text>
<text transform="matrix(0.9291 0 0 1 566.08 532.33)" style="font-size:16.62px;font-weight:bold;fill:#111">G</text>
<text transform="matrix(0.9034 0 0 1 467.29 541.70)" style="font-size:17.43px;font-weight:bold;fill:#111">A1</text>
<text transform="matrix(0.9295 0 0 1 715.18 566.90)" style="font-size:17.43px;font-weight:bold;fill:#111">A2</text>
<text transform="matrix(0.8864 0 0 1 466.70 601.00)" style="font-size:17.68px;font-weight:bold;fill:#111">W1</text>
<text transform="matrix(0.8934 0 0 1 715.18 600.70)" style="font-size:17.71px;font-weight:bold;fill:#111">A1</text>
<text transform="matrix(0.8499 0 0 1 421.20 620.20)" style="font-size:18.84px;font-weight:bold;fill:#111">W1</text>
<text transform="matrix(0.8825 0 0 1 481.40 655.00)" style="font-size:17.57px;font-weight:bold;fill:#111">W2</text>
<text transform="matrix(0.9321 0 0 1 701.00 690.40)" style="font-size:16.86px;font-weight:bold;fill:#111">W2</text>
<text transform="matrix(0.9568 0 0 1 702.09 745.00)" style="font-size:16.29px;font-weight:bold;fill:#111">A1</text>
<text transform="matrix(1.0595 0 0 1 423.96 454.70)" style="font-size:17.14px;font-weight:bold;fill:#111">2</text>
<text transform="matrix(1.1012 0 0 1 769.68 454.70)" style="font-size:17.14px;font-weight:bold;fill:#111">2</text>
<text transform="matrix(0.9075 0 0 1 424.16 698.11)" style="font-size:18.73px;font-weight:bold;fill:#111">3</text>
<text transform="matrix(0.8901 0 0 1 770.66 698.21)" style="font-size:18.87px;font-weight:bold;fill:#111">3</text>
<g style="font-size:16.49px;font-weight:normal;fill:#111;stroke:#111;stroke-width:0.8px;stroke-linejoin:round"><text transform="matrix(1.1426 0 0 1 428.16 770.64)">ﾚ</text><text transform="matrix(1.0422 0 0 1 437.28 770.64)">ｽ</text></g>
<text transform="matrix(1.1662 0 0 1 411.14 451.73)" style="font-size:14.15px;font-weight:normal;fill:#555">[</text>
<text transform="matrix(1.2116 0 0 1 442.00 451.73)" style="font-size:14.15px;font-weight:normal;fill:#555">]</text>
<text transform="matrix(1.0722 0 0 1 758.35 451.81)" style="font-size:13.99px;font-weight:normal;fill:#555">[</text>
<text transform="matrix(1.0212 0 0 1 790.60 451.81)" style="font-size:13.99px;font-weight:normal;fill:#555">]</text>
<text transform="matrix(1.1308 0 0 1 410.68 695.33)" style="font-size:14.15px;font-weight:normal;fill:#555">[</text>
<text transform="matrix(1.1106 0 0 1 442.00 695.33)" style="font-size:14.15px;font-weight:normal;fill:#555">]</text>
<text transform="matrix(1.1224 0 0 1 757.88 695.41)" style="font-size:14.26px;font-weight:normal;fill:#555">[</text>
<text transform="matrix(1.0021 0 0 1 789.60 695.41)" style="font-size:14.26px;font-weight:normal;fill:#555">]</text>
<text transform="matrix(1.0846 0 0 1 419.35 768.30)" style="font-size:13.83px;font-weight:normal;fill:#555">[</text>
<text transform="matrix(1.0330 0 0 1 450.70 768.30)" style="font-size:13.83px;font-weight:normal;fill:#555">]</text>
</g>
</svg>
</body></html>
